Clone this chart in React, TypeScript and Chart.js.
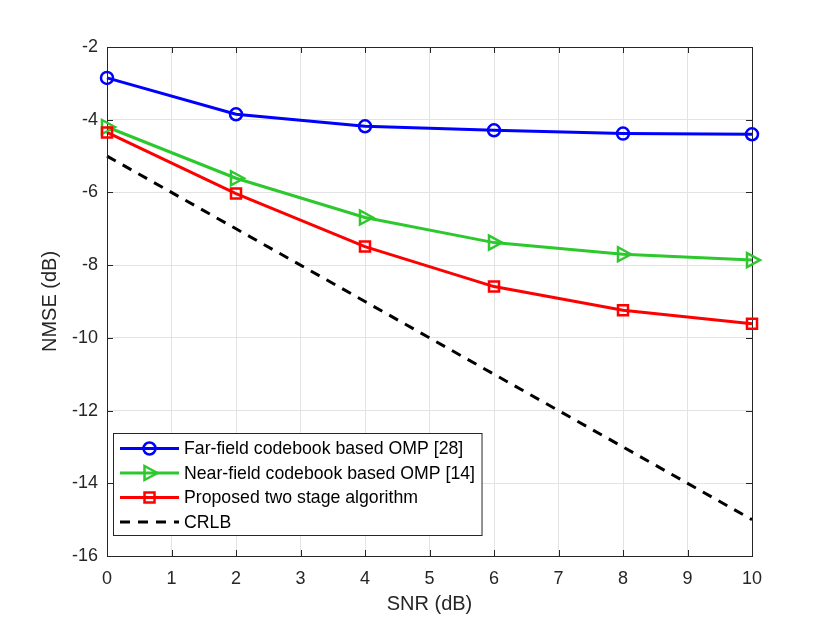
import React, { useRef, useEffect } from 'react';
import { Chart, registerables } from 'chart.js';
import type { ChartConfiguration, Plugin } from 'chart.js';

Chart.register(...registerables);

const FONT = "'Liberation Sans', Arial, Helvetica, sans-serif";
const AXIS_COLOR = '#262626';

// values
const snr = [0, 2, 4, 6, 8, 10];
const farField = [-2.85, -3.85, -4.18, -4.29, -4.38, -4.4];
const nearField = [-4.2, -5.61, -6.69, -7.38, -7.7, -7.86];
const proposed = [-4.35, -6.03, -7.49, -8.59, -9.24, -9.61];
const crlb = [-5, -7, -9, -11, -13, -15];

const xTicks = [0, 1, 2, 3, 4, 5, 6, 7, 8, 9, 10];
const yTicks = [-16, -14, -12, -10, -8, -6, -4, -2];

const labels = [
  'Far-field codebook based OMP [28]',
  'Near-field codebook based OMP [14]',
  'Proposed two stage algorithm',
  'CRLB',
];

const toPoints = (ys: number[]) => snr.map((x, i) => ({ x, y: ys[i] }));

// draw a marker in the MATLAB style (hollow)
function drawMarker(ctx: CanvasRenderingContext2D, style: string, x: number, y: number, color: string) {
  ctx.save();
  ctx.strokeStyle = color;
  ctx.lineWidth = 2.5;
  ctx.setLineDash([]);
  ctx.beginPath();
  if (style === 'circle') {
    ctx.arc(x, y, 6, 0, Math.PI * 2);
  } else if (style === 'triangle') {
    ctx.moveTo(x + 8, y);
    ctx.lineTo(x - 5, y - 7);
    ctx.lineTo(x - 5, y + 7);
    ctx.closePath();
  } else if (style === 'rect') {
    ctx.rect(x - 5, y - 5, 10, 10);
  }
  ctx.stroke();
  ctx.restore();
}

// full axes box, inward ticks and the legend inside the axes
const matlabAxes: Plugin = {
  id: 'matlabAxes',
  afterDatasetsDraw(chart) {
    const { ctx, chartArea: a, scales } = chart;
    const tl = 6;
    ctx.save();
    ctx.strokeStyle = AXIS_COLOR;
    ctx.lineWidth = 1;
    ctx.beginPath();
    xTicks.forEach((t) => {
      const px = Math.round(scales.x.getPixelForValue(t)) + 0.5;
      ctx.moveTo(px, a.bottom);
      ctx.lineTo(px, a.bottom - tl);
      ctx.moveTo(px, a.top);
      ctx.lineTo(px, a.top + tl);
    });
    yTicks.forEach((t) => {
      const py = Math.round(scales.y.getPixelForValue(t)) + 0.5;
      ctx.moveTo(a.left, py);
      ctx.lineTo(a.left + tl, py);
      ctx.moveTo(a.right, py);
      ctx.lineTo(a.right - tl, py);
    });
    ctx.stroke();
    ctx.strokeRect(Math.round(a.left) + 0.5, Math.round(a.top) + 0.5, Math.round(a.right - a.left), Math.round(a.bottom - a.top));

    // legend
    ctx.font = `17.7px ${FONT}`;
    const textW = Math.max(...labels.map((l) => ctx.measureText(l).width));
    const bx = 113.5;
    const by = 433.5;
    const rowH = 24.5;
    const textX = 184;
    const bw = textX + textW + 7 - bx;
    const bh = 102;
    ctx.fillStyle = '#ffffff';
    ctx.fillRect(bx, by, bw, bh);
    ctx.strokeStyle = AXIS_COLOR;
    ctx.strokeRect(bx, by, bw, bh);
    chart.data.datasets.forEach((ds: any, i: number) => {
      const cy = by + 15 + i * rowH;
      ctx.save();
      ctx.strokeStyle = ds.borderColor;
      ctx.lineWidth = ds.borderWidth;
      ctx.setLineDash(ds.borderDash || []);
      ctx.beginPath();
      ctx.moveTo(120, cy);
      ctx.lineTo(179, cy);
      ctx.stroke();
      ctx.restore();
      if (ds.markerStyle) drawMarker(ctx, ds.markerStyle, 149.5, cy, ds.borderColor);
      ctx.fillStyle = '#000000';
      ctx.textBaseline = 'middle';
      ctx.textAlign = 'left';
      ctx.fillText(labels[i], textX, cy + 1);
    });
    ctx.restore();
  },
};

const App: React.FC = () => {
  const canvasRef = useRef<HTMLCanvasElement>(null);
  const chartRef = useRef<Chart | null>(null);

  useEffect(() => {
    if (!canvasRef.current) return;
    if (chartRef.current) chartRef.current.destroy();

    const lineSet = (label: string, ys: number[], color: string, marker: string | null, dash: number[] = []) => ({
      label,
      data: toPoints(ys),
      borderColor: color,
      borderWidth: 3,
      borderDash: dash,
      pointRadius: 0,
      pointHoverRadius: 0,
      markerStyle: marker,
      fill: false,
      tension: 0,
      clip: false as const,
    });

    const config: ChartConfiguration = {
      type: 'scatter',
      data: {
        datasets: [
          lineSet(labels[0], farField, '#0000ff', 'circle'),
          lineSet(labels[1], nearField, '#2dc82d', 'triangle'),
          lineSet(labels[2], proposed, '#ff0000', 'rect'),
          lineSet(labels[3], crlb, '#000000', null, [10, 8]),
        ] as any,
      },
      options: {
        animation: false,
        responsive: false,
        showLine: true,
        layout: { padding: { top: 47, right: 78, left: 0, bottom: 0 } },
        plugins: {
          legend: { display: false },
          tooltip: { enabled: false },
        },
        scales: {
          x: {
            type: 'linear',
            min: 0,
            max: 10,
            afterFit: (s: any) => {
              s.height = 69;
            },
            afterBuildTicks: (s: any) => {
              s.ticks = xTicks.map((v) => ({ value: v }));
            },
            grid: { color: '#e3e3e3', lineWidth: 1, drawTicks: false },
            border: { display: false },
            ticks: { color: AXIS_COLOR, font: { family: FONT, size: 18 }, padding: 12, maxRotation: 0 },
            title: {
              display: true,
              text: 'SNR (dB)',
              color: AXIS_COLOR,
              font: { family: FONT, size: 20 },
              padding: { top: 0, bottom: 9 },
            },
          },
          y: {
            type: 'linear',
            min: -16,
            max: -2,
            afterFit: (s: any) => {
              s.width = 107;
            },
            afterBuildTicks: (s: any) => {
              s.ticks = yTicks.map((v) => ({ value: v }));
            },
            grid: { color: '#e3e3e3', lineWidth: 1, drawTicks: false },
            border: { display: false },
            ticks: { color: AXIS_COLOR, font: { family: FONT, size: 18 }, padding: 9 },
            title: {
              display: true,
              text: 'NMSE (dB)',
              color: AXIS_COLOR,
              font: { family: FONT, size: 20 },
              padding: { top: 38, bottom: 0 },
            },
          },
        },
      },
      plugins: [
        matlabAxes,
        {
          id: 'markers',
          afterDatasetsDraw(chart) {
            const { ctx } = chart;
            chart.data.datasets.forEach((ds: any, i: number) => {
              if (!ds.markerStyle) return;
              chart.getDatasetMeta(i).data.forEach((pt: any) => {
                drawMarker(ctx, ds.markerStyle, pt.x, pt.y, ds.borderColor);
              });
            });
          },
        },
      ],
    };

    chartRef.current = new Chart(canvasRef.current, config);
    return () => {
      if (chartRef.current) {
        chartRef.current.destroy();
        chartRef.current = null;
      }
    };
  }, []);

  return (
    <div style={{ position: 'fixed', left: 0, top: 0, width: 830, height: 625, background: '#ffffff' }}>
      <canvas ref={canvasRef} width={830} height={625} style={{ width: 830, height: 625 }} />
    </div>
  );
};

export default App;
